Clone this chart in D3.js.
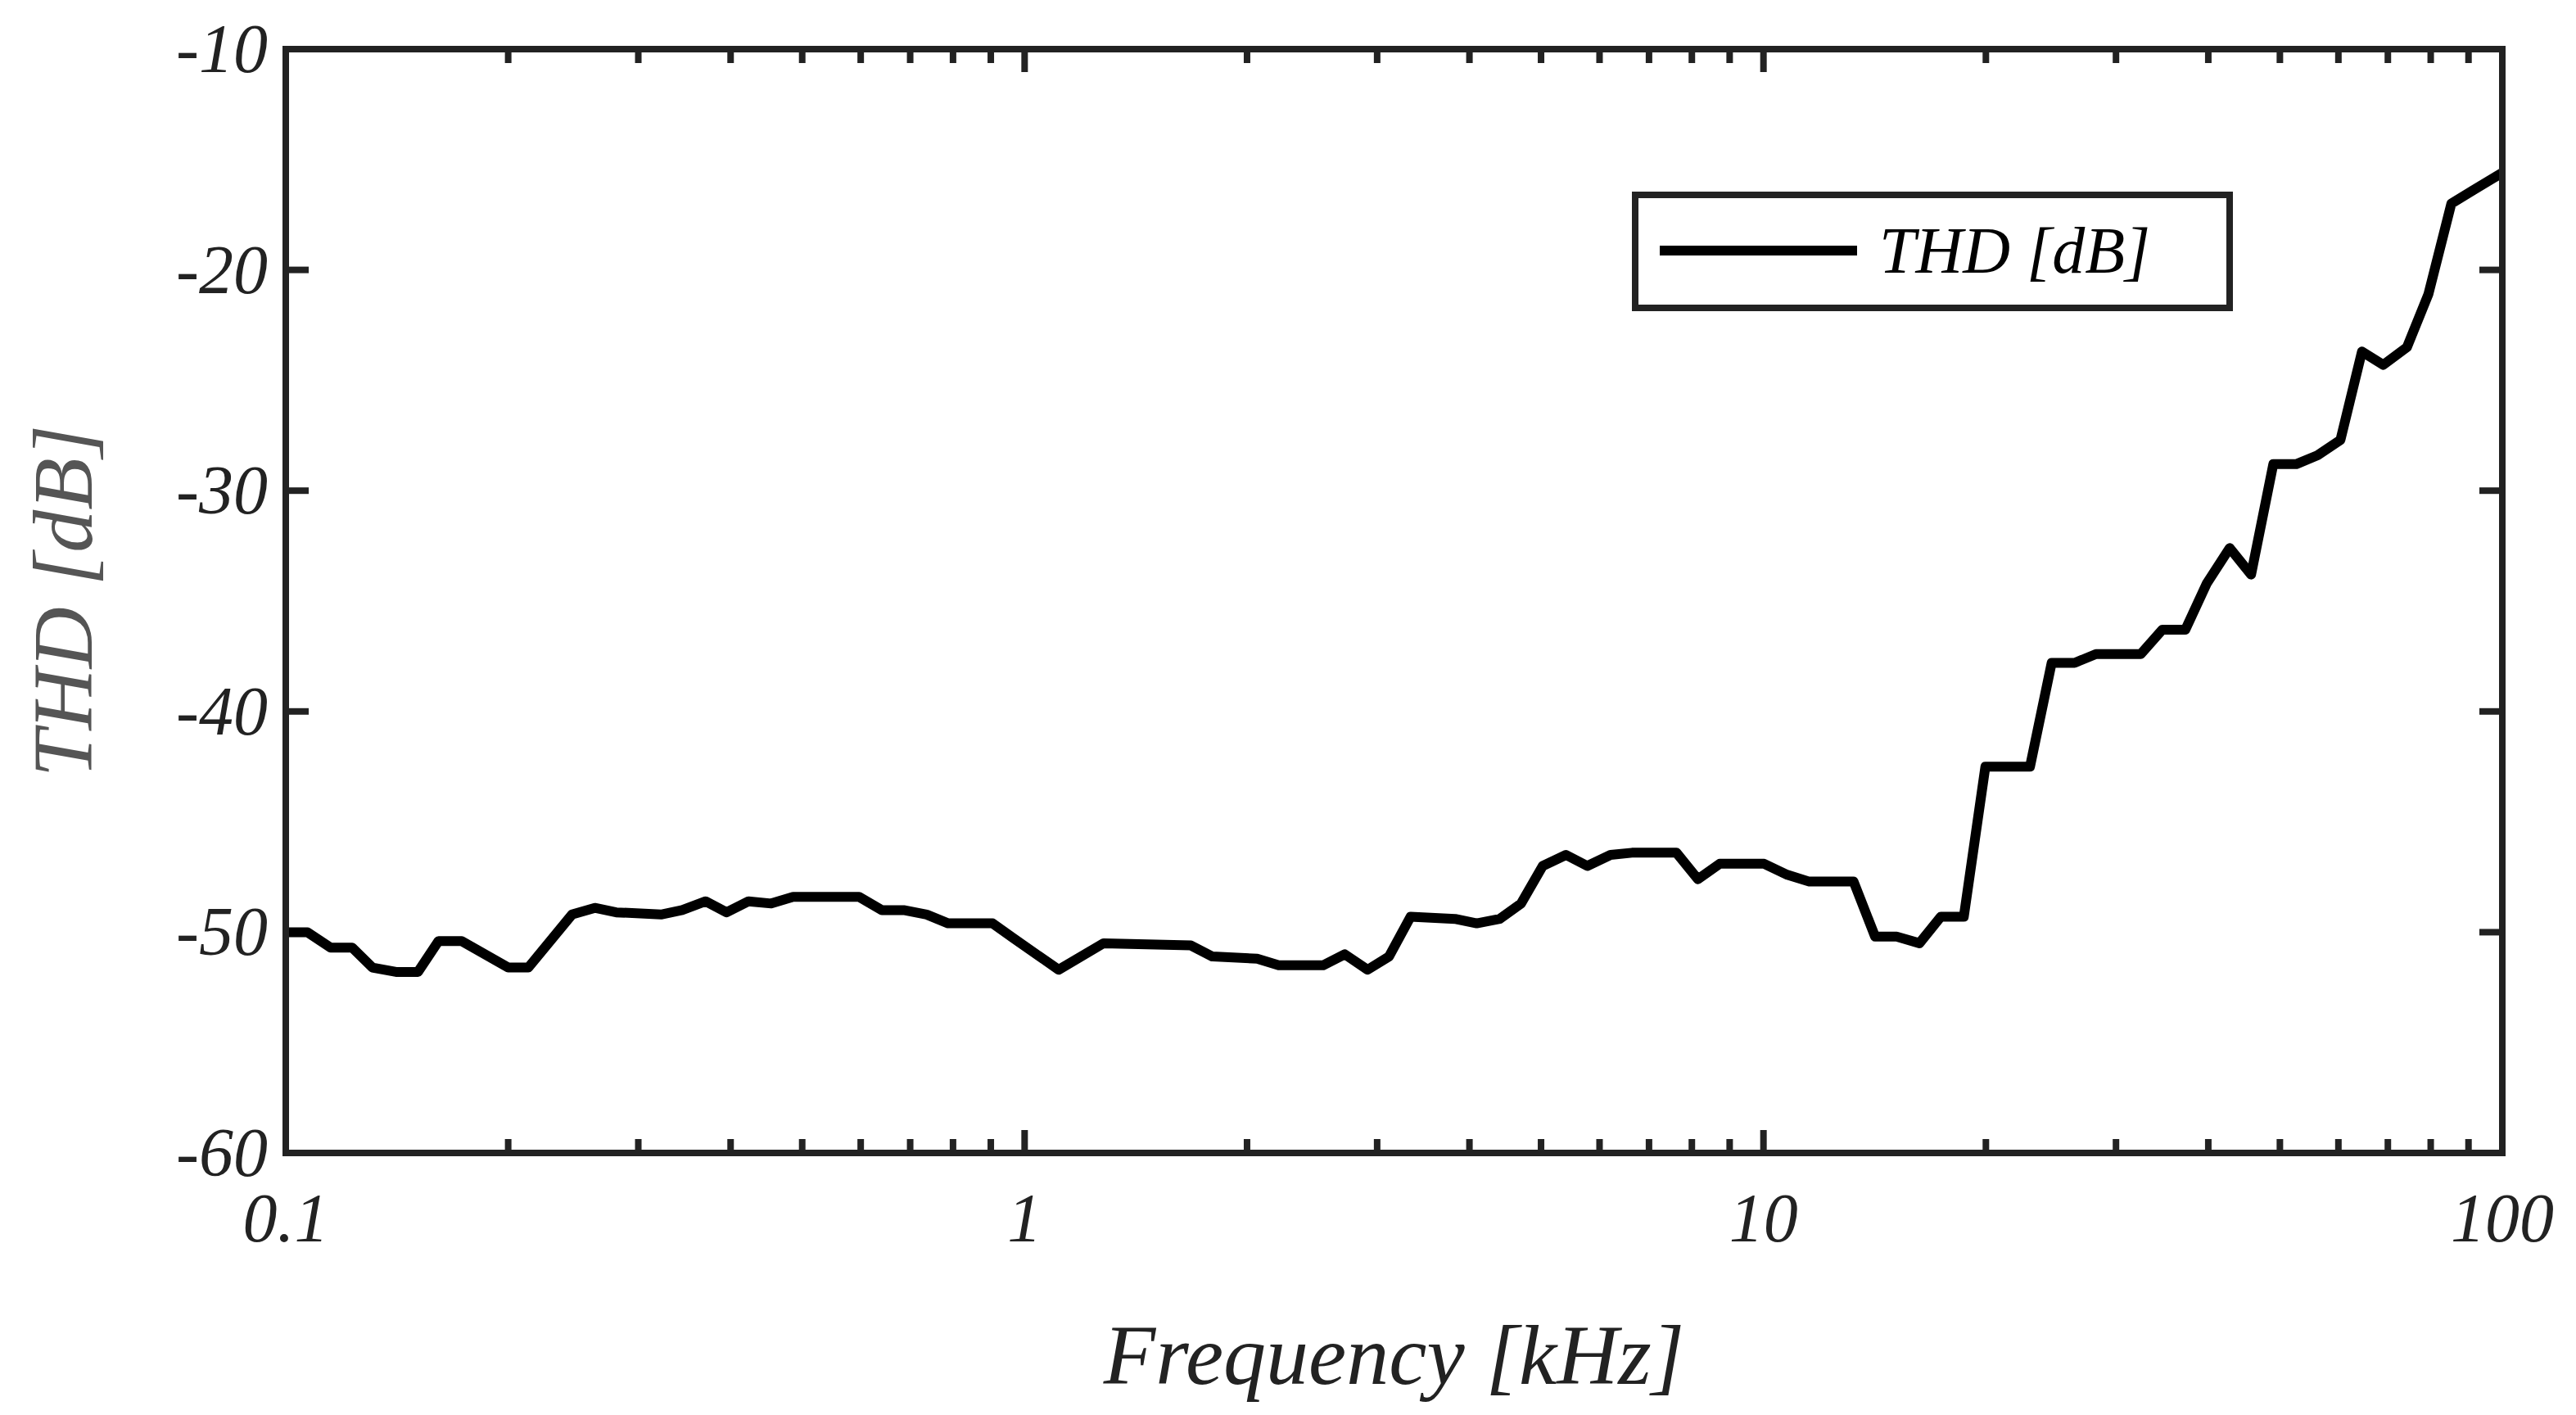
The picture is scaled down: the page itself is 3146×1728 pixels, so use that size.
<!DOCTYPE html>
<html>
<head>
<meta charset="utf-8">
<script src="https://cdn.jsdelivr.net/npm/d3@7"></script>
<style>
  body { margin: 0; background: #fff; }
  text { font-family: "Liberation Serif", "DejaVu Serif", serif; font-style: italic; }
</style>
</head>
<body>
<svg width="3146" height="1728"></svg>
<script>
// frequency in kHz and THD in dB
const freqs = [0.100, 0.107, 0.115, 0.123, 0.131, 0.141, 0.151, 0.161, 0.173, 0.200, 0.213, 0.244, 0.262, 0.280,
  0.322, 0.344, 0.370, 0.395, 0.423, 0.454, 0.486, 0.597, 0.641, 0.686, 0.737, 0.788, 0.905, 0.968, 1.112, 1.279,
  1.679, 1.795, 2.064, 2.207, 2.535, 2.712, 2.912, 3.113, 3.329, 3.826, 4.092, 4.396, 4.699, 5.026, 5.404, 5.776,
  6.209, 6.637, 7.625, 8.154, 8.725, 10.02, 10.77, 11.51, 13.24, 14.16, 15.14, 16.26, 17.38, 18.67, 19.97, 22.95,
  24.55, 26.37, 28.19, 32.41, 34.66, 37.24, 39.81, 42.76, 45.71, 48.98, 52.60, 56.23, 60.39, 64.57, 69.02, 74.30,
  79.43, 85.31, 91.20, 100];
const thd = [-50.0, -50.0, -50.7, -50.7, -51.6, -51.8, -51.8, -50.4, -50.4, -51.6, -51.6, -49.2, -48.9, -49.1,
  -49.2, -49.0, -48.6, -49.1, -48.6, -48.7, -48.4, -48.4, -49.0, -49.0, -49.2, -49.6, -49.6, -50.3, -51.7, -50.5,
  -50.6, -51.1, -51.2, -51.5, -51.5, -51.0, -51.7, -51.1, -49.3, -49.4, -49.6, -49.4, -48.7, -47.0, -46.5, -47.0,
  -46.5, -46.4, -46.4, -47.6, -46.9, -46.9, -47.4, -47.7, -47.7, -50.2, -50.2, -50.5, -49.3, -49.3, -42.5, -42.5,
  -37.8, -37.8, -37.4, -37.4, -36.3, -36.3, -34.2, -32.6, -33.8, -28.8, -28.8, -28.4, -27.7, -23.7, -24.3, -23.5,
  -21.1, -17.0, -16.4, -15.6];
const yTicks = [-60, -50, -40, -30, -20, -10];
const xTicks = [0.1, 1, 10, 100];
const xTickLabels = ["0.1", "1", "10", "100"];
const minorTicks = [0.2, 0.3, 0.4, 0.5, 0.6, 0.7, 0.8, 0.9, 2, 3, 4, 5, 6, 7, 8, 9, 20, 30, 40, 50, 60, 70, 80, 90];

const pLeft = 349, pRight = 3056, pTop = 60, pBottom = 1408;
const axisColor = "#222";
const svg = d3.select("svg");

const x = d3.scaleLog().domain([0.1, 100]).range([pLeft, pRight]);
const y = d3.scaleLinear().domain([-60, -10]).range([pBottom, pTop]);

// major and minor ticks, inward on all four sides
const g = svg.append("g").attr("stroke", axisColor).attr("stroke-width", 8);
yTicks.forEach(t => {
  g.append("line").attr("x1", pLeft).attr("x2", pLeft + 28).attr("y1", y(t)).attr("y2", y(t));
  g.append("line").attr("x1", pRight).attr("x2", pRight - 28).attr("y1", y(t)).attr("y2", y(t));
});
xTicks.forEach(t => {
  g.append("line").attr("x1", x(t)).attr("x2", x(t)).attr("y1", pBottom).attr("y2", pBottom - 28);
  g.append("line").attr("x1", x(t)).attr("x2", x(t)).attr("y1", pTop).attr("y2", pTop + 28);
});
minorTicks.forEach(t => {
  g.append("line").attr("x1", x(t)).attr("x2", x(t)).attr("y1", pBottom).attr("y2", pBottom - 17);
  g.append("line").attr("x1", x(t)).attr("x2", x(t)).attr("y1", pTop).attr("y2", pTop + 17);
});

// data line
const line = d3.line().x((d, i) => x(freqs[i])).y(d => y(d));
svg.append("path")
  .datum(thd)
  .attr("fill", "none")
  .attr("stroke", "#000")
  .attr("stroke-width", 12)
  .attr("stroke-linejoin", "round")
  .attr("d", line);

// frame
svg.append("rect")
  .attr("x", pLeft).attr("y", pTop)
  .attr("width", pRight - pLeft).attr("height", pBottom - pTop)
  .attr("fill", "none").attr("stroke", axisColor).attr("stroke-width", 8);

// tick labels
yTicks.forEach(t => {
  svg.append("text").attr("x", pLeft - 22).attr("y", y(t) + 28)
    .attr("text-anchor", "end").attr("font-size", 84).attr("fill", axisColor)
    .text(t);
});
xTicks.forEach((t, i) => {
  svg.append("text").attr("x", x(t)).attr("y", pBottom + 108)
    .attr("text-anchor", "middle").attr("font-size", 84).attr("fill", axisColor)
    .text(xTickLabels[i]);
});

// axis titles
svg.append("text").attr("x", (pLeft + pRight) / 2).attr("y", 1690)
  .attr("text-anchor", "middle").attr("font-size", 104).attr("fill", axisColor)
  .text("Frequency [kHz]");
svg.append("text")
  .attr("transform", `translate(112,${(pTop + pBottom) / 2}) rotate(-90)`)
  .attr("text-anchor", "middle").attr("font-size", 104).attr("fill", "#555")
  .text("THD [dB]");

// legend
svg.append("rect").attr("x", 1997).attr("y", 238).attr("width", 726).attr("height", 138)
  .attr("fill", "#fff").attr("stroke", axisColor).attr("stroke-width", 8);
svg.append("line").attr("x1", 2027).attr("x2", 2268).attr("y1", 306).attr("y2", 306)
  .attr("stroke", "#000").attr("stroke-width", 12);
svg.append("text").attr("x", 2295).attr("y", 333).attr("font-size", 80).attr("fill", "#000")
  .text("THD [dB]");
</script>
</body>
</html>
